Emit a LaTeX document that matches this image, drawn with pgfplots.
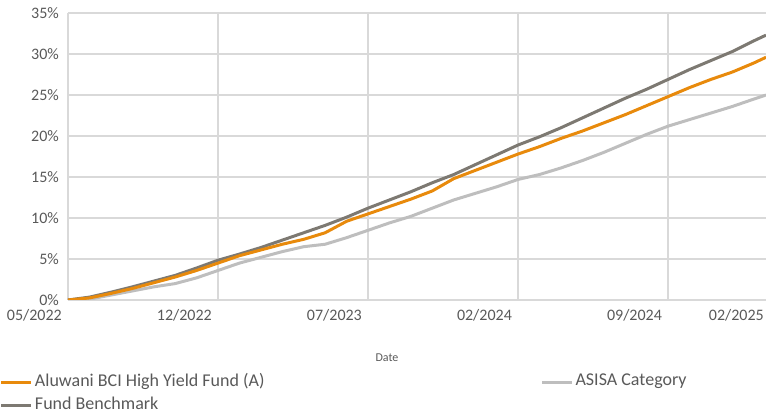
\documentclass[border=0pt]{standalone}
\usepackage{pgfplots}
\pgfplotsset{compat=1.18}
\usepackage{fontspec}
\setmainfont{Carlito}
\definecolor{fundorange}{RGB}{232,138,12}
\definecolor{bench}{RGB}{125,121,114}
\definecolor{asisa}{RGB}{190,190,190}
\definecolor{gridc}{RGB}{217,217,217}
\definecolor{txt}{RGB}{89,89,89}
\begin{document}
\begin{tikzpicture}[x=1pt,y=1pt]
\path[use as bounding box] (0,0) rectangle (766,414);
\begin{axis}[
  at={(68pt,114pt)}, anchor=south west,
  scale only axis, width=698pt, height=287pt,
  xmin=0, xmax=32.57, ymin=0, ymax=35,
  xtick={0,7,14,21,28},
  xticklabels={05/2022,12/2022,07/2023,02/2024,09/2024},
  extra x ticks={32.57}, extra x tick labels={02/2025},
  extra x tick style={grid=none, xticklabel style={xshift=4pt}},
  ytick={0,5,10,15,20,25,30,35},
  yticklabels={0\%,5\%,10\%,15\%,20\%,25\%,30\%,35\%},
  grid=major, grid style={gridc, line width=1.3pt},
  major tick length=0pt,
  axis line style={draw=none},
  tick label style={font=\fontsize{16}{19}\selectfont, text=txt},
  yticklabel style={inner sep=0pt, xshift=-9pt},
  xticklabel style={inner sep=0pt, anchor=north east, xshift=-6pt, yshift=-9pt},
  legend columns=2,
  legend cell align=left,
  legend style={at={(0,0)}, anchor=north west, xshift=-68pt, yshift=-71pt,
    draw=none, fill=none, font=\fontsize{18}{21}\selectfont, text=txt,
    inner sep=0pt, outer sep=0pt, row sep=5pt,
    nodes={inner sep=2pt},
    /tikz/every even column/.append style={column sep=274pt}},
  legend image code/.code={\draw[#1, line width=3pt] (0pt,-2pt) -- (30pt,-2pt);},
]
\addlegendimage{fundorange}\addlegendentry{Aluwani BCI High Yield Fund (A)}
\addlegendimage{asisa}\addlegendentry{ASISA Category}
\addlegendimage{bench}\addlegendentry{Fund Benchmark}

\addplot[asisa, line width=3pt, forget plot] coordinates {
(0,0) (1,0.1) (2,0.6) (3,1.1) (4,1.6) (5,2.0) (6,2.7) (7,3.6) (8,4.5) (9,5.2)
(10,5.9) (11,6.5) (12,6.8) (13,7.6) (14,8.5) (15,9.4) (16,10.2) (17,11.2) (18,12.2) (19,13.0)
(20,13.8) (21,14.7) (22,15.3) (23,16.1) (24,17.0) (25,18.0) (26,19.1) (27,20.2) (28,21.2) (29,22.0)
(30,22.8) (31,23.6) (32,24.5) (32.57,25.0)};

\addplot[bench, line width=3pt, forget plot] coordinates {
(0,0) (1,0.35) (2,0.95) (3,1.6) (4,2.3) (5,3.0) (6,3.9) (7,4.85) (8,5.6) (9,6.4)
(10,7.3) (11,8.2) (12,9.1) (13,10.1) (14,11.2) (15,12.2) (16,13.2) (17,14.3) (18,15.3) (19,16.5)
(20,17.7) (21,18.9) (22,19.9) (23,21.0) (24,22.2) (25,23.4) (26,24.6) (27,25.7) (28,26.9) (29,28.1)
(30,29.2) (31,30.3) (32,31.6) (32.57,32.3)};

\addplot[fundorange, line width=3pt, forget plot] coordinates {
(0,0) (1,0.25) (2,0.8) (3,1.4) (4,2.1) (5,2.8) (6,3.6) (7,4.5) (8,5.4) (9,6.1)
(10,6.8) (11,7.4) (12,8.2) (13,9.6) (14,10.5) (15,11.4) (16,12.3) (17,13.3) (18,14.8) (19,15.8)
(20,16.8) (21,17.8) (22,18.7) (23,19.7) (24,20.6) (25,21.6) (26,22.6) (27,23.7) (28,24.8) (29,25.9)
(30,26.9) (31,27.8) (32,28.9) (32.57,29.6)};
\end{axis}
\node[font=\fontsize{12}{14}\selectfont, text=txt] at (387,56) {Date};
\end{tikzpicture}
\end{document}
